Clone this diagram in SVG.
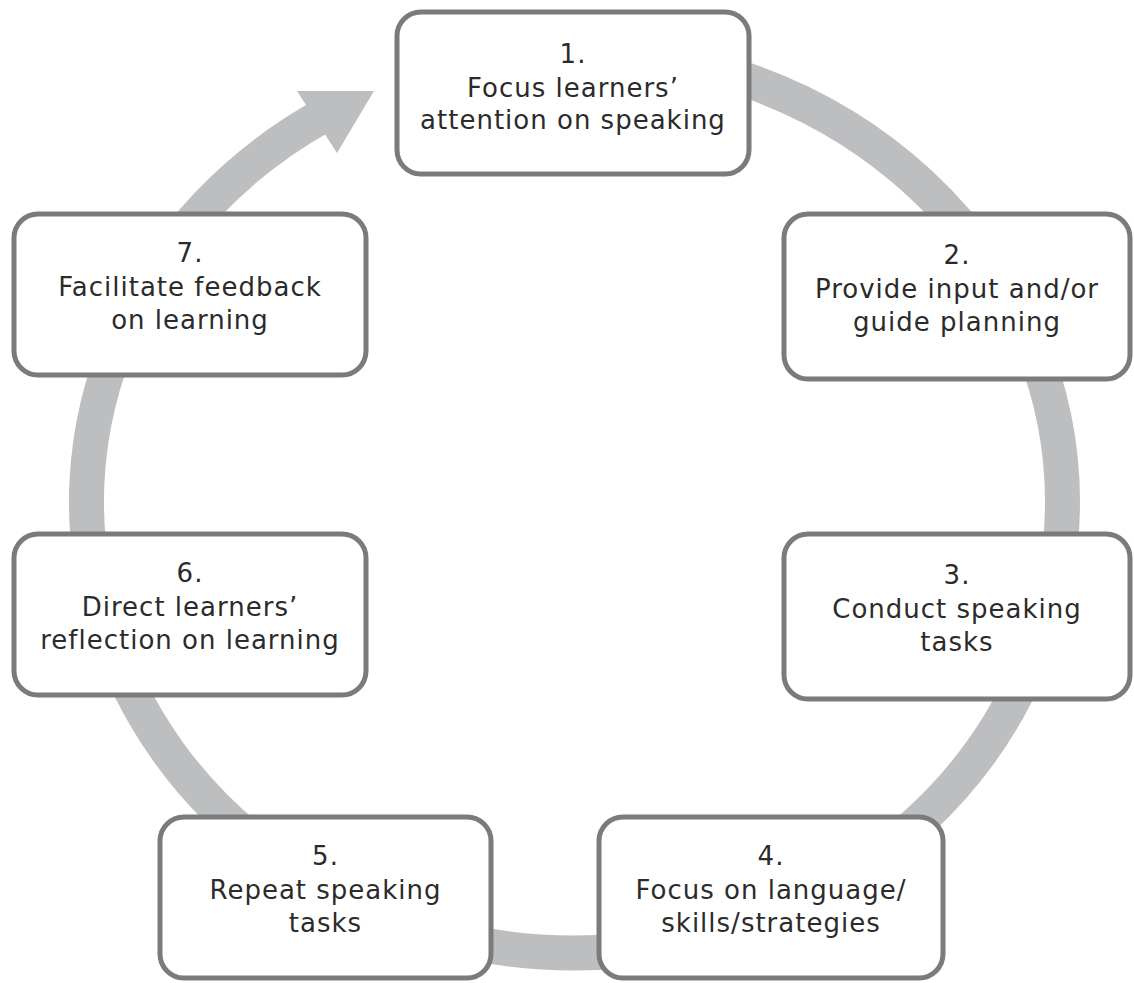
<svg xmlns="http://www.w3.org/2000/svg" width="1134" height="983" viewBox="0 0 1134 983">
<style>
.box{fill:#fff;stroke:#7a7b7c;stroke-width:5}
.t{font-family:"DejaVu Sans",Verdana,sans-serif;font-size:26px;fill:#2b2b2b;text-anchor:middle;letter-spacing:1px}
.ring{fill:none;stroke:#bdbec0;stroke-width:35}
.head{fill:#bdbec0}
</style>
<rect width="1134" height="983" fill="#fff"/>
<g id="connectors">
<path class="ring" d="M574.5,51 A488,451 0 0 1 1062.5,502 A488,451 0 0 1 574.5,953 A488,451 0 0 1 325,114.4"/>
<polygon class="head" points="297,91 374,91 337,153"/>
</g>
<g id="node1">
<rect class="box" x="397" y="12" width="352" height="162" rx="24"/>
<text class="t" x="573" y="63">1.</text>
<text class="t" x="573" y="97">Focus learners’</text>
<text class="t" x="573" y="129">attention on speaking</text>
</g>
<g id="node2">
<rect class="box" x="784" y="214" width="346" height="165" rx="24"/>
<text class="t" x="957" y="264">2.</text>
<text class="t" x="957" y="298">Provide input and/or</text>
<text class="t" x="957" y="331">guide planning</text>
</g>
<g id="node3">
<rect class="box" x="784" y="534" width="346" height="165" rx="24"/>
<text class="t" x="957" y="584">3.</text>
<text class="t" x="957" y="618">Conduct speaking</text>
<text class="t" x="957" y="651">tasks</text>
</g>
<g id="node4">
<rect class="box" x="599" y="817" width="344" height="161" rx="24"/>
<text class="t" x="771" y="865">4.</text>
<text class="t" x="771" y="899">Focus on language/</text>
<text class="t" x="771" y="932">skills/strategies</text>
</g>
<g id="node5">
<rect class="box" x="160" y="817" width="331" height="161" rx="24"/>
<text class="t" x="325.5" y="865">5.</text>
<text class="t" x="325.5" y="899">Repeat speaking</text>
<text class="t" x="325.5" y="932">tasks</text>
</g>
<g id="node6">
<rect class="box" x="14" y="534" width="352" height="161" rx="24"/>
<text class="t" x="190" y="582">6.</text>
<text class="t" x="190" y="616">Direct learners’</text>
<text class="t" x="190" y="649">reflection on learning</text>
</g>
<g id="node7">
<rect class="box" x="14" y="214" width="352" height="161" rx="24"/>
<text class="t" x="190" y="262">7.</text>
<text class="t" x="190" y="296">Facilitate feedback</text>
<text class="t" x="190" y="329">on learning</text>
</g>
</svg>
